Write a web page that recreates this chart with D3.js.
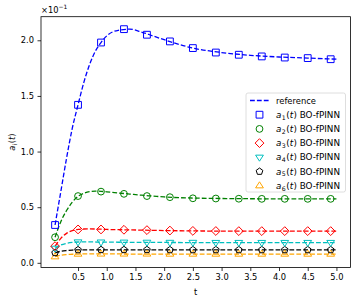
<!DOCTYPE html>
<html>
<head>
<meta charset="utf-8">
<script src="https://cdn.jsdelivr.net/npm/d3@7"></script>
<style>
  body { margin: 0; background: #fff; }
  svg { font-family: "DejaVu Sans", sans-serif; }
</style>
</head>
<body>
<div id="chart"></div>
<script>
// values as shown on the axis (axis carries a x10^-1 offset)
var markerT = [0.1, 0.5, 0.9, 1.3, 1.7, 2.1, 2.5, 2.9, 3.3, 3.7, 4.1, 4.5, 4.9];
var a1 = [0.34, 1.42, 1.98, 2.10, 2.05, 1.99, 1.93, 1.89, 1.87, 1.855, 1.845, 1.84, 1.83];
var a2 = [0.23, 0.60, 0.64, 0.62, 0.60, 0.59, 0.58, 0.578, 0.576, 0.575, 0.575, 0.575, 0.575];
var a3 = [0.15, 0.30, 0.30, 0.297, 0.294, 0.29, 0.287, 0.286, 0.285, 0.285, 0.285, 0.285, 0.285];
var a4 = [0.13, 0.187, 0.186, 0.185, 0.184, 0.183, 0.183, 0.182, 0.182, 0.182, 0.182, 0.182, 0.182];
var a5 = [0.09, 0.116, 0.117, 0.117, 0.117, 0.116, 0.116, 0.116, 0.116, 0.116, 0.116, 0.116, 0.116];
var a6 = [0.055, 0.079, 0.08, 0.08, 0.08, 0.079, 0.079, 0.079, 0.079, 0.079, 0.079, 0.079, 0.079];

var refT = [0.1, 0.2, 0.3, 0.4, 0.5, 0.6, 0.7, 0.8, 0.9, 1.0, 1.2, 1.4, 1.6, 1.8, 2.0, 2.5, 3.0, 3.5, 4.0, 4.5, 5.0];
var ref1 = [0.34, 0.64, 0.94, 1.21, 1.42, 1.62, 1.78, 1.90, 1.98, 2.04, 2.09, 2.10, 2.075, 2.04, 2.005, 1.93, 1.89, 1.865, 1.85, 1.84, 1.83];
var ref2 = [0.23, 0.37, 0.47, 0.545, 0.597, 0.625, 0.64, 0.645, 0.643, 0.638, 0.628, 0.618, 0.608, 0.60, 0.592, 0.582, 0.578, 0.576, 0.575, 0.575, 0.575];
var ref3 = [0.15, 0.22, 0.265, 0.29, 0.30, 0.304, 0.305, 0.304, 0.302, 0.30, 0.298, 0.296, 0.294, 0.292, 0.29, 0.287, 0.285, 0.285, 0.285, 0.285, 0.285];
var ref4 = [0.13, 0.16, 0.175, 0.183, 0.187, 0.188, 0.188, 0.187, 0.186, 0.186, 0.185, 0.184, 0.184, 0.183, 0.183, 0.182, 0.182, 0.182, 0.182, 0.182, 0.182];
var ref5 = [0.09, 0.104, 0.111, 0.115, 0.116, 0.117, 0.117, 0.117, 0.117, 0.117, 0.117, 0.116, 0.116, 0.116, 0.116, 0.116, 0.116, 0.116, 0.116, 0.116, 0.116];
var ref6 = [0.055, 0.068, 0.074, 0.077, 0.079, 0.08, 0.08, 0.08, 0.08, 0.08, 0.08, 0.079, 0.079, 0.079, 0.079, 0.079, 0.079, 0.079, 0.079, 0.079, 0.079];

var xTicks = [0.5, 1.0, 1.5, 2.0, 2.5, 3.0, 3.5, 4.0, 4.5, 5.0];
var yTicks = [0.0, 0.5, 1.0, 1.5, 2.0];
var names = ["1", "2", "3", "4", "5", "6"];
var colors = ["#0000ff", "#008000", "#ff0000", "#00bfbf", "#000000", "#ffa500"];

var width = 357, height = 303;
var margin = {top: 16.7, right: 6.5, bottom: 35.5, left: 41};
var w = width - margin.left - margin.right,
    h = height - margin.top - margin.bottom;

var svg = d3.select("#chart").append("svg")
    .attr("width", width)
    .attr("height", height);

var xScale = d3.scaleLinear().domain([-0.145, 5.245]).range([0, w]);
var yScale = d3.scaleLinear().domain([-0.042, 2.212]).range([h, 0]);

var g = svg.append("g")
    .attr("transform", "translate(" + margin.left + "," + margin.top + ")");

var line = d3.line()
    .x(function(d) { return xScale(d[0]); })
    .y(function(d) { return yScale(d[1]); })
    .curve(d3.curveMonotoneX);

var refs = [ref1, ref2, ref3, ref4, ref5, ref6];
var marks = [a1, a2, a3, a4, a5, a6];

// marker shapes, drawn centered at 0,0
function markerPath(i) {
  var s = 3.4;
  if (i == 0) return "M" + -s + "," + -s + "H" + s + "V" + s + "H" + -s + "Z";
  if (i == 1) return "M" + -s + ",0A" + s + "," + s + " 0 1,0 " + s + ",0A" + s + "," + s + " 0 1,0 " + -s + ",0Z";
  if (i == 2) { var r = 4.4; return "M0," + -r + "L" + r + ",0L0," + r + "L" + -r + ",0Z"; }
  if (i == 3) { var r = 3.9; return "M" + -r + "," + (-r*0.55) + "L" + r + "," + (-r*0.55) + "L0," + r + "Z"; }
  if (i == 4) {
    var r = 3.5, pts = [];
    for (var k = 0; k < 5; k++) {
      var a = -Math.PI / 2 + k * 2 * Math.PI / 5;
      pts.push([r * Math.cos(a), r * Math.sin(a)]);
    }
    return "M" + pts.map(function(p) { return p.join(","); }).join("L") + "Z";
  }
  var r = 3.9; return "M0," + -r + "L" + r + "," + (r*0.55) + "L" + -r + "," + (r*0.55) + "Z";
}

// draw from the bottom series up so a1 sits on top
for (var i = 5; i >= 0; i--) {
  g.append("path")
      .datum(refT.map(function(t, j) { return [t, refs[i][j]]; }))
      .attr("fill", "none")
      .attr("stroke", colors[i])
      .attr("stroke-width", 1.3)
      .attr("stroke-dasharray", "4.8,2.1")
      .attr("d", line);
}
for (var i = 5; i >= 0; i--) {
  g.selectAll(".m" + i)
      .data(markerT.map(function(t, j) { return [t, marks[i][j]]; }))
    .enter().append("path")
      .attr("class", "m" + i)
      .attr("transform", function(d) { return "translate(" + xScale(d[0]) + "," + yScale(d[1]) + ")"; })
      .attr("d", markerPath(i))
      .attr("fill", "none")
      .attr("stroke", colors[i])
      .attr("stroke-width", 1);
}

// axes
var xAxis = g.append("g")
    .attr("transform", "translate(0," + h + ")")
    .call(d3.axisBottom(xScale).tickValues(xTicks).tickFormat(d3.format(".1f")).tickSize(3.5).tickPadding(3.5));
var yAxis = g.append("g")
    .call(d3.axisLeft(yScale).tickValues(yTicks).tickFormat(d3.format(".1f")).tickSize(3.5).tickPadding(3.5));
[xAxis, yAxis].forEach(function(a) {
  a.select(".domain").remove();
  a.selectAll("line").attr("stroke", "#000").attr("stroke-width", 0.8);
  a.selectAll("text").attr("font-size", 8.3).attr("fill", "#000").attr("font-family", "DejaVu Sans");
});

// frame
g.append("rect")
    .attr("width", w).attr("height", h)
    .attr("fill", "none").attr("stroke", "#000").attr("stroke-width", 0.8);

// axis labels
svg.append("text")
    .attr("x", margin.left + w / 2).attr("y", 295)
    .attr("text-anchor", "middle").attr("font-size", 8.3)
    .text("t");

var yl = svg.append("text")
    .attr("transform", "translate(14.5," + (margin.top + h / 2) + ") rotate(-90)")
    .attr("text-anchor", "middle").attr("font-size", 8.3);
yl.append("tspan").attr("font-style", "italic").text("a");
yl.append("tspan").attr("font-size", 6).attr("dy", 2).text("i");
yl.append("tspan").attr("dy", -2).attr("dx", 0.6).text("(");
yl.append("tspan").attr("font-style", "italic").text("t");
yl.append("tspan").text(")");

var off = svg.append("text")
    .attr("x", margin.left).attr("y", 12.5)
    .attr("font-size", 8.3);
off.append("tspan").text("\u00d710");
off.append("tspan").attr("font-size", 6).attr("dy", -3.5).text("\u22121");

// legend
var lg = svg.append("g").attr("transform", "translate(246,93)");
lg.append("rect")
    .attr("width", 99.5).attr("height", 99)
    .attr("rx", 2)
    .attr("fill", "#fff").attr("fill-opacity", 0.8)
    .attr("stroke", "#d6d6d6").attr("stroke-width", 0.8);

var rowY = function(k) { return 7.5 + k * 14.2; };
lg.append("line")
    .attr("x1", 4).attr("x2", 23).attr("y1", rowY(0)).attr("y2", rowY(0))
    .attr("stroke", colors[0]).attr("stroke-width", 1.3).attr("stroke-dasharray", "4.8,2.1");
lg.append("text")
    .attr("x", 30).attr("y", rowY(0) + 3)
    .attr("font-size", 8.4).text("reference");

names.forEach(function(n, i) {
  var y = rowY(i + 1);
  lg.append("path")
      .attr("transform", "translate(13.5," + y + ")")
      .attr("d", markerPath(i))
      .attr("fill", "none").attr("stroke", colors[i]).attr("stroke-width", 1);
  var t = lg.append("text").attr("x", 30).attr("y", y + 3).attr("font-size", 8.8);
  t.append("tspan").attr("font-style", "italic").text("a");
  t.append("tspan").attr("font-size", 6.2).attr("dy", 1.8).attr("dx", 0.3).text(n);
  t.append("tspan").attr("dy", -1.8).attr("dx", 0.6).text("(");
  t.append("tspan").attr("font-style", "italic").text("t");
  t.append("tspan").attr("dx", 0.3).text(") BO-fPINN");
});
</script>
</body>
</html>
